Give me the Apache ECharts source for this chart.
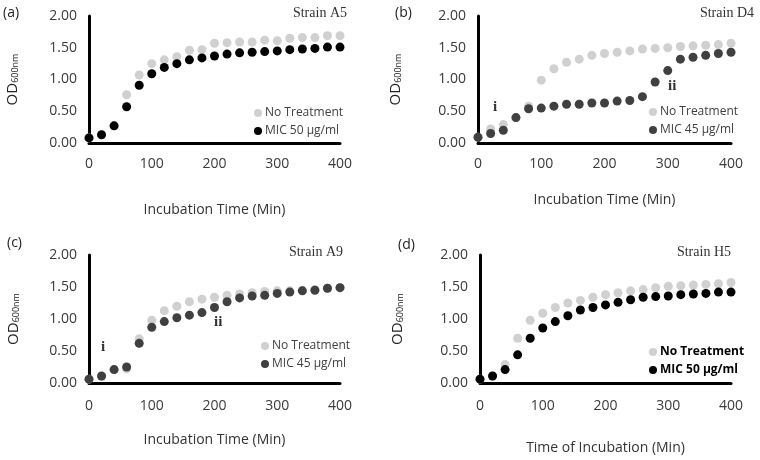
<!DOCTYPE html>
<html>
<head>
<meta charset="utf-8">
<script src="https://cdn.jsdelivr.net/npm/echarts@6/dist/echarts.min.js"></script>
<style>
html, body { margin: 0; padding: 0; background: #fff; }
#chart { width: 760px; height: 460px; }
</style>
</head>
<body>
<div id="chart"></div>
<script>
// sampling times (min), shared by all four strains
const minutes = [0, 20, 40, 60, 80, 100, 120, 140, 160, 180, 200, 220, 240, 260, 280, 300, 320, 340, 360, 380, 400]

// (a) Strain A5
const a5Control = [0.08, 0.13, 0.27, 0.76, 1.07, 1.25, 1.31, 1.36, 1.46, 1.47, 1.57, 1.58, 1.59, 1.59, 1.62, 1.61, 1.65, 1.66, 1.66, 1.69, 1.69]
const a5Mic = [0.08, 0.13, 0.27, 0.57, 0.91, 1.09, 1.19, 1.25, 1.31, 1.34, 1.37, 1.40, 1.42, 1.43, 1.44, 1.45, 1.47, 1.48, 1.49, 1.51, 1.51]
// (b) Strain D4
const d4Control = [0.09, 0.22, 0.29, 0.40, 0.58, 0.99, 1.17, 1.27, 1.32, 1.38, 1.41, 1.43, 1.45, 1.48, 1.49, 1.50, 1.52, 1.53, 1.54, 1.55, 1.57]
const d4Mic = [0.09, 0.15, 0.20, 0.40, 0.54, 0.55, 0.58, 0.61, 0.61, 0.63, 0.63, 0.66, 0.67, 0.73, 0.96, 1.14, 1.32, 1.35, 1.38, 1.41, 1.43]
// (c) Strain A9
const a9Control = [0.06, 0.10, 0.21, 0.22, 0.69, 0.98, 1.13, 1.20, 1.27, 1.31, 1.34, 1.37, 1.39, 1.41, 1.43, 1.44, 1.44, 1.45, 1.46, 1.48, 1.49]
const a9Mic = [0.06, 0.11, 0.21, 0.25, 0.62, 0.87, 0.96, 1.02, 1.06, 1.10, 1.18, 1.27, 1.33, 1.36, 1.37, 1.40, 1.42, 1.44, 1.45, 1.48, 1.49]
// (d) Strain H5
const h5Control = [0.06, 0.11, 0.29, 0.70, 0.98, 1.09, 1.18, 1.25, 1.29, 1.34, 1.38, 1.41, 1.44, 1.46, 1.49, 1.51, 1.52, 1.53, 1.54, 1.55, 1.57]
const h5Mic = [0.06, 0.11, 0.21, 0.44, 0.70, 0.86, 0.96, 1.05, 1.14, 1.18, 1.22, 1.26, 1.30, 1.34, 1.35, 1.36, 1.38, 1.39, 1.40, 1.42, 1.42]

const yTickFormat = (v) => v.toFixed(2)

const font = 'Open Sans'
const gray = '#d0d0d0'

const panels = [
  { tag: '(a)', strain: 'Strain A5', xName: 'Incubation Time (Min)', control: a5Control, mic: a5Mic, micName: 'MIC 50 \u03bcg/ml', micColor: '#000',
    grid: { left: 89, top: 16, width: 251, height: 127 }, xGap: 60, yGap: 69, legend: { left: 254, top: 106 }, bold: false,
    tagPos: [3, 6], strainPos: [347, 6] },
  { tag: '(b)', strain: 'Strain D4', xName: 'Incubation Time (Min)', control: d4Control, mic: d4Mic, micName: 'MIC 45 \u03bcg/ml', micColor: '#404040',
    grid: { left: 478, top: 16, width: 253, height: 127 }, xGap: 50, yGap: 75, legend: { left: 649, top: 105 }, bold: false,
    tagPos: [395, 6], strainPos: [754, 6] },
  { tag: '(c)', strain: 'Strain A9', xName: 'Incubation Time (Min)', control: a9Control, mic: a9Mic, micName: 'MIC 45 \u03bcg/ml', micColor: '#404040',
    grid: { left: 89, top: 255, width: 251, height: 128 }, xGap: 50, yGap: 68, legend: { left: 261, top: 339 }, bold: false,
    tagPos: [7, 236], strainPos: [343, 245] },
  { tag: '(d)', strain: 'Strain H5', xName: 'Time of Incubation (Min)', control: h5Control, mic: h5Mic, micName: 'MIC 50 \u03bcg/ml', micColor: '#000',
    grid: { left: 480, top: 255, width: 251, height: 128 }, xGap: 58, yGap: 75, legend: { left: 649, top: 345 }, bold: true,
    tagPos: [398, 238], strainPos: [731, 245] }
]

// "i" / "ii" growth-phase marks in panels b and c
const phaseMarks = [
  { text: 'i', x: 493, y: 100 },
  { text: 'ii', x: 668, y: 79 },
  { text: 'i', x: 101, y: 340 },
  { text: 'ii', x: 214, y: 315 }
]

const chart = echarts.init(document.getElementById('chart'))

const toPoints = (values) => minutes.map((m, i) => [m, values[i]])

const grids = []
const xAxes = []
const yAxes = []
const legends = []
const series = []
const graphics = []

panels.forEach((p, idx) => {
  grids.push(p.grid)
  xAxes.push({
    gridIndex: idx,
    type: 'value',
    min: 0,
    max: 400,
    interval: 100,
    name: p.xName,
    nameLocation: 'middle',
    nameGap: p.xGap,
    nameTextStyle: { fontFamily: font, fontSize: 14, color: '#333' },
    axisLine: { show: true, lineStyle: { color: '#000', width: 3 } },
    axisTick: { show: false },
    splitLine: { show: false },
    axisLabel: { fontFamily: font, fontSize: 14, color: '#3a3a3a', margin: idx < 2 ? 14 : 16 }
  })
  yAxes.push({
    gridIndex: idx,
    type: 'value',
    min: 0,
    max: 2,
    interval: 0.5,
    name: '{a|OD}{b|600nm}',
    nameLocation: 'middle',
    nameRotate: 90,
    nameGap: p.yGap,
    nameTextStyle: {
      rich: {
        a: { fontFamily: font, fontSize: 15, color: '#222' },
        b: { fontFamily: font, fontSize: 9, color: '#222', verticalAlign: 'bottom', padding: [6, 0, 0, 0] }
      }
    },
    axisLine: { show: true, lineStyle: { color: '#000', width: 3 } },
    axisTick: { show: false },
    splitLine: { show: false },
    axisLabel: { fontFamily: font, fontSize: 14, color: '#3a3a3a', margin: 12, formatter: yTickFormat }
  })
  legends.push({
    orient: 'vertical',
    left: p.legend.left,
    top: p.legend.top,
    data: ['No Treatment', p.micName],
    icon: 'circle',
    itemWidth: 8,
    itemHeight: 8,
    itemGap: 4,
    selectedMode: false,
    padding: 0,
    textStyle: { fontFamily: font, fontSize: 12, lineHeight: 14, color: p.bold ? '#000' : '#404040', fontWeight: p.bold ? 'bold' : 'normal', padding: [0, 0, 0, -2] }
  })
  series.push({
    name: 'No Treatment',
    type: 'scatter',
    xAxisIndex: idx,
    yAxisIndex: idx,
    symbolSize: 9,
    itemStyle: { color: gray, opacity: 1 },
    data: toPoints(p.control),
    z: 2
  })
  series.push({
    name: p.micName,
    type: 'scatter',
    xAxisIndex: idx,
    yAxisIndex: idx,
    symbolSize: 9,
    itemStyle: { color: p.micColor, opacity: 1 },
    data: toPoints(p.mic),
    z: 3
  })
  graphics.push({
    type: 'text',
    left: p.tagPos[0],
    top: p.tagPos[1],
    style: { text: p.tag, fontFamily: font, fontSize: 14, fill: '#222' }
  })
  graphics.push({
    type: 'text',
    right: 760 - p.strainPos[0],
    top: p.strainPos[1],
    style: { text: p.strain, fontFamily: 'Liberation Serif', fontSize: 14, fill: '#333' }
  })
})

phaseMarks.forEach((m) => {
  graphics.push({
    type: 'text',
    left: m.x,
    top: m.y,
    style: { text: m.text, fontFamily: 'Liberation Serif', fontSize: 15, fontWeight: 'bold', fill: '#333' }
  })
})

chart.setOption({
  backgroundColor: '#fff',
  animation: false,
  grid: grids,
  xAxis: xAxes,
  yAxis: yAxes,
  legend: legends,
  series: series,
  graphic: graphics
})
</script>
</body>
</html>
